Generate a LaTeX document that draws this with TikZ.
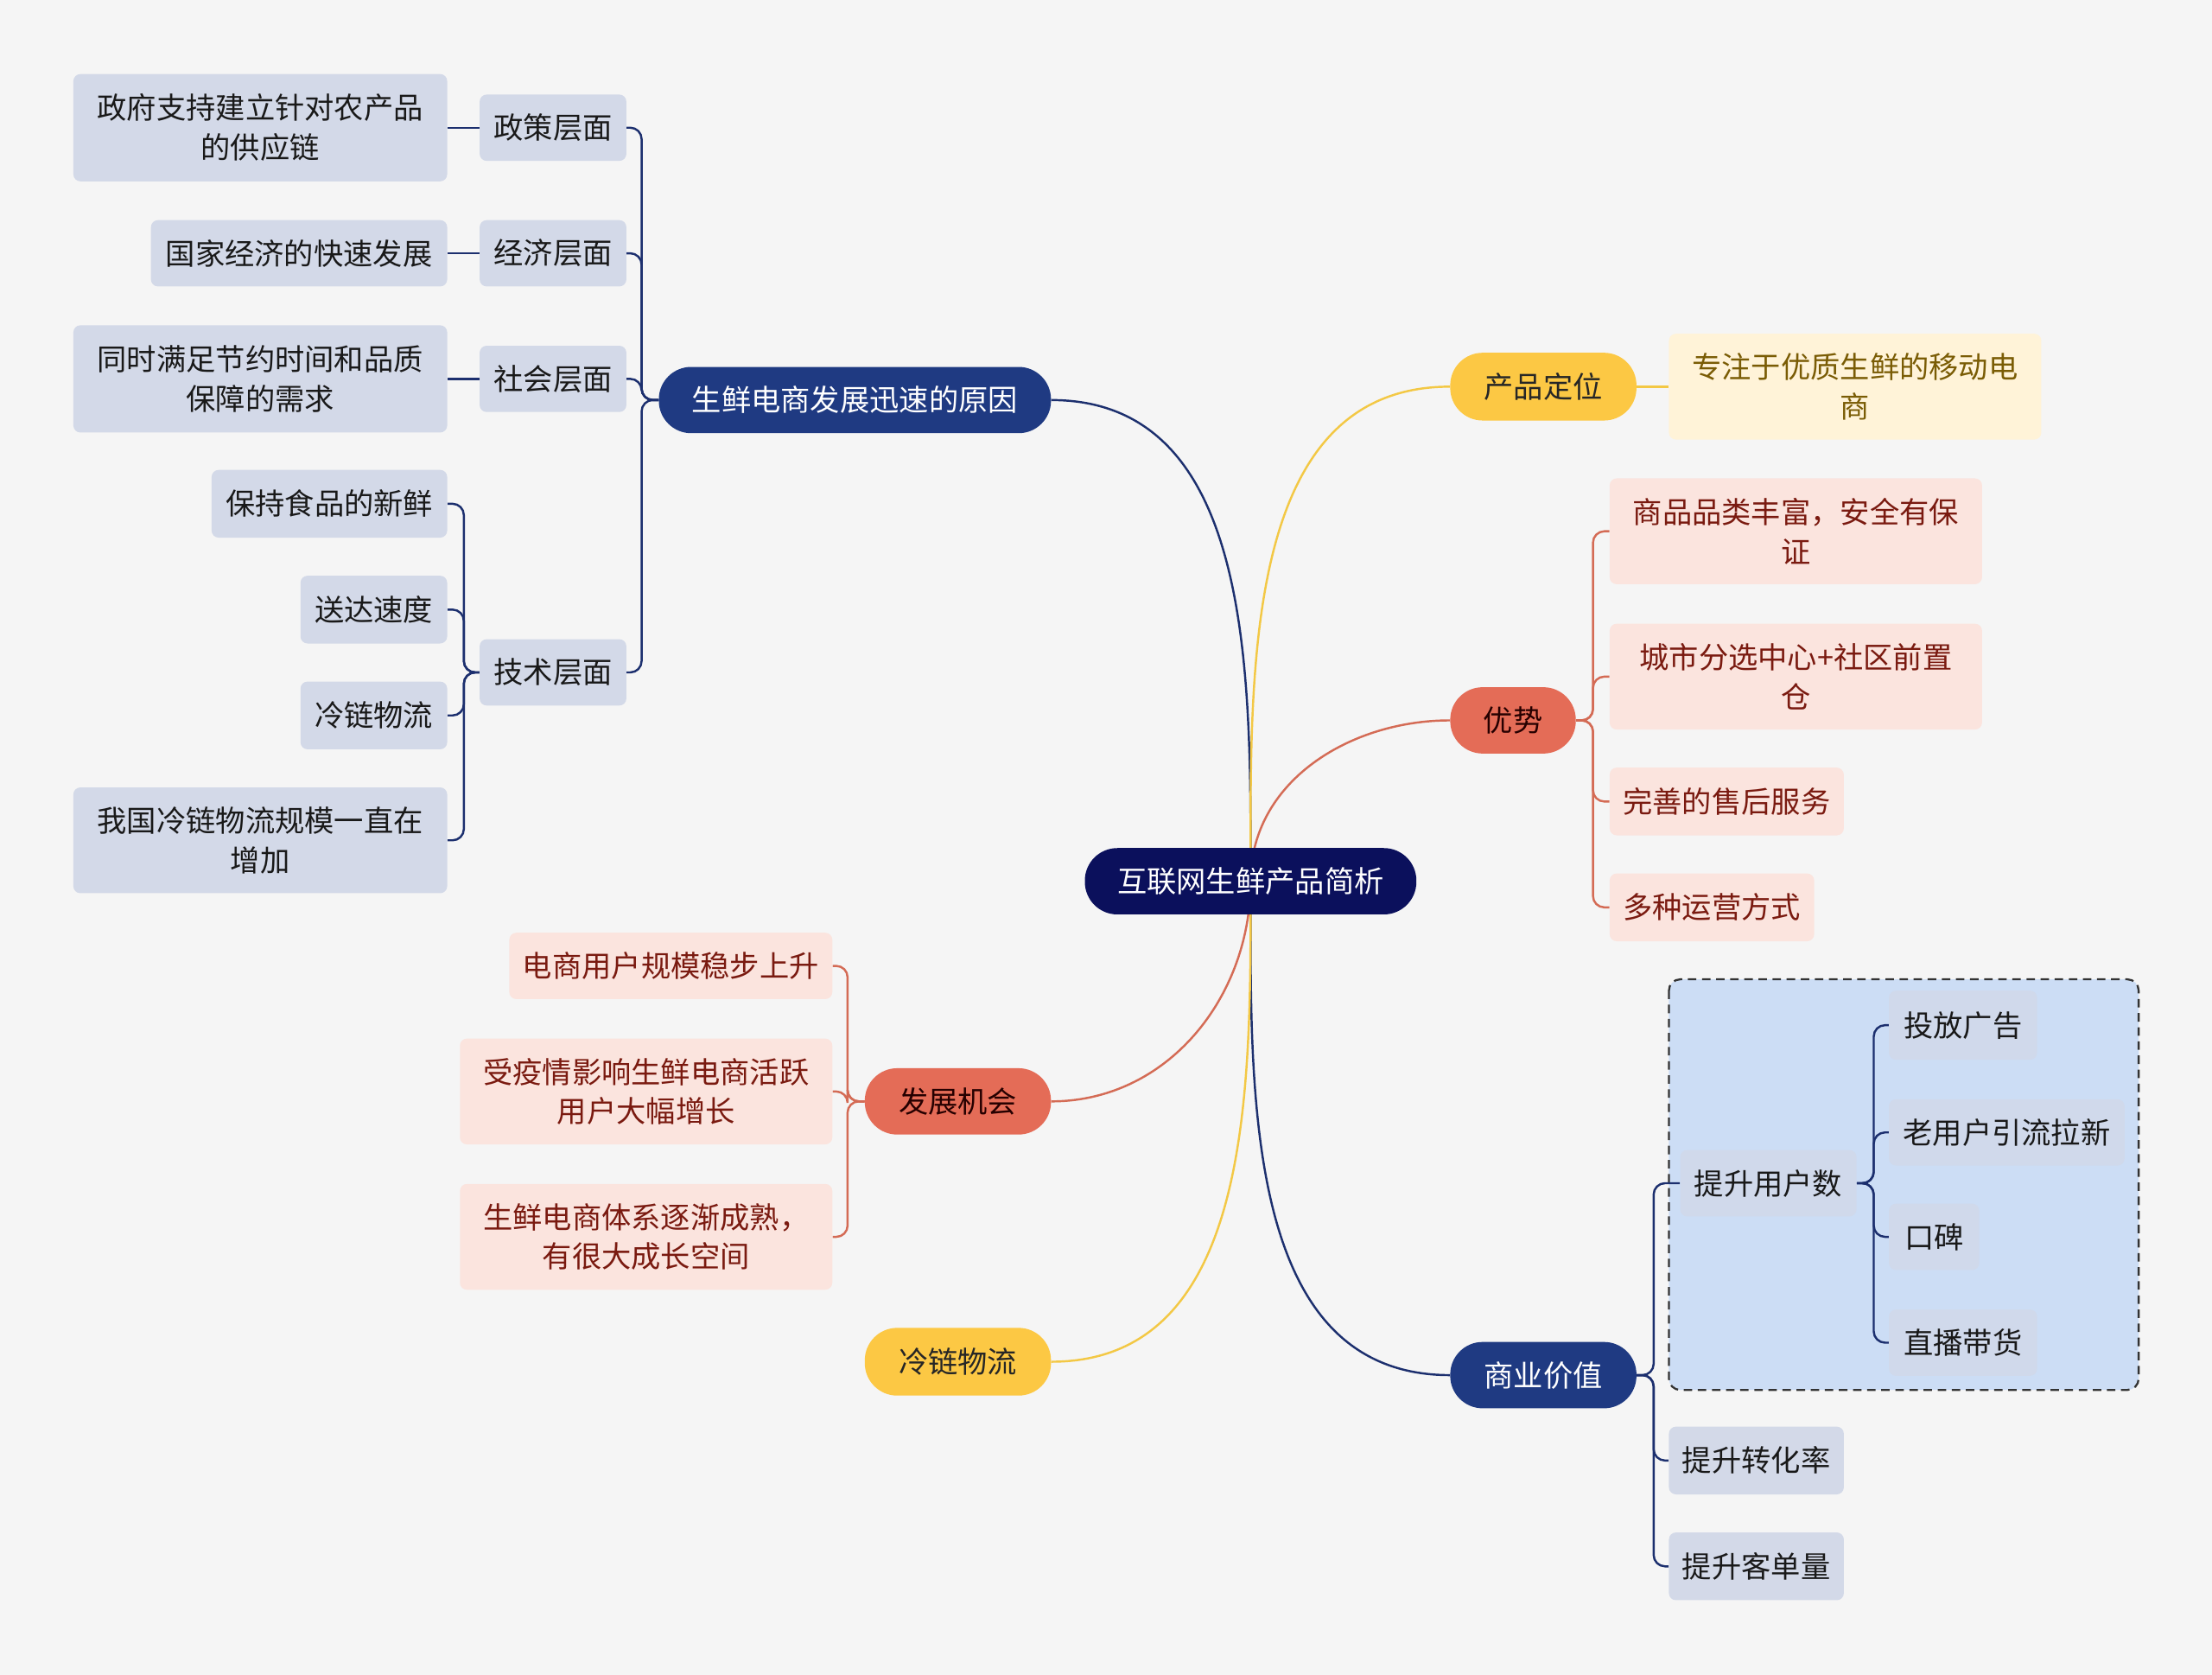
\documentclass[tikz,border=0pt]{standalone}
\usepackage{fontspec}
\newfontfamily\cjk{Noto Sans CJK SC}
\usetikzlibrary{backgrounds}
\definecolor{bgc}{HTML}{F5F5F5}
\definecolor{rootc}{HTML}{0B105C}
\definecolor{navy}{HTML}{1F3A82}
\definecolor{navyline}{HTML}{1C2F6E}
\definecolor{subfill}{HTML}{D3D9E8}
\definecolor{gold}{HTML}{FCC844}
\definecolor{goldline}{HTML}{F3C845}
\definecolor{cream}{HTML}{FFF3D8}
\definecolor{creamtext}{HTML}{7A5C05}
\definecolor{coral}{HTML}{E46C57}
\definecolor{coralline}{HTML}{D46B55}
\definecolor{pinkfill}{HTML}{FBE4DE}
\definecolor{pinktext}{HTML}{7A1A10}
\definecolor{boxblue}{HTML}{CCDDF5}
\definecolor{innerfill}{HTML}{D0D9EB}
\tikzset{
  base/.style={rectangle, inner sep=0pt, align=center, font=\cjk\fontsize{21}{28}\selectfont},
  wh/.style 2 args={minimum width=#1, minimum height=#2},
  rootnode/.style={base, rounded corners=23pt, fill=rootc, text=white},
  navymain/.style={base, rounded corners=23pt, fill=navy, text=white},
  goldmain/.style={base, rounded corners=23pt, fill=gold, text=black!85},
  coralmain/.style={base, rounded corners=23pt, fill=coral, text=black!85!red},
  sub/.style={base, rounded corners=5pt, fill=subfill, text=black!90},
  inner/.style={base, rounded corners=5pt, fill=innerfill, text=black!90},
  creamnode/.style={base, rounded corners=5pt, fill=cream, text=creamtext},
  pinknode/.style={base, rounded corners=5pt, fill=pinkfill, text=pinktext},
  nline/.style={draw=navyline, line width=1.5pt},
  cline/.style={draw=coralline, line width=1.5pt},
  gline/.style={draw=goldline, line width=1.5pt},
  tree/.style={rounded corners=8pt},
}
\begin{document}
\begin{tikzpicture}[x=1pt, y=-1pt]
\useasboundingbox (0,0) rectangle (1568,1187);
% root
\node[rootnode, wh={235}{47}] (root) at (886.5,624.5) {互联网生鲜产品简析};
% left top branch
\node[navymain, wh={278}{47}] (why) at (606,283.5) {生鲜电商发展迅速的原因};
\node[sub, wh={104}{47}] (zc) at (392,90.5) {政策层面};
\node[sub, wh={265}{76}] (zc1) at (184.5,90.5) {政府支持建立针对农产品\\的供应链};
\node[sub, wh={104}{47}] (jj) at (392,179.5) {经济层面};
\node[sub, wh={210}{47}] (jj1) at (212,179.5) {国家经济的快速发展};
\node[sub, wh={104}{47}] (sh) at (392,268.5) {社会层面};
\node[sub, wh={265}{76}] (sh1) at (184.5,268.5) {同时满足节约时间和品质\\保障的需求};
\node[sub, wh={104}{47}] (js) at (392,476.5) {技术层面};
\node[sub, wh={167}{48}] (js1) at (233.5,357) {保持食品的新鲜};
\node[sub, wh={104}{48}] (js2) at (265,432) {送达速度};
\node[sub, wh={104}{48}] (js3) at (265,507) {冷链物流};
\node[sub, wh={265}{75}] (js4) at (184.5,595.5) {我国冷链物流规模一直在\\增加};
% left bottom
\node[coralmain, wh={132}{47}] (jh) at (679,780.5) {发展机会};
\node[pinknode, wh={229}{47}] (jh1) at (475.5,684.5) {电商用户规模稳步上升};
\node[pinknode, wh={264}{75}] (jh2) at (458,773.5) {受疫情影响生鲜电商活跃\\用户大幅增长};
\node[pinknode, wh={264}{75}] (jh3) at (458,876.5) {生鲜电商体系逐渐成熟，\\有很大成长空间};
\node[goldmain, wh={132}{48}] (ll) at (679,965) {冷链物流};
% right
\node[goldmain, wh={132}{48}] (dw) at (1094,274) {产品定位};
\node[creamnode, wh={264}{75}] (dw1) at (1315,274) {专注于优质生鲜的移动电\\商};
\node[coralmain, wh={89}{47}] (ys) at (1072.5,510.5) {优势};
\node[pinknode, wh={264}{75}] (ys1) at (1273,376.5) {商品品类丰富，安全有保\\证};
\node[pinknode, wh={264}{75}] (ys2) at (1273,479.5) {城市分选中心+社区前置\\仓};
\node[pinknode, wh={166}{48}] (ys3) at (1224,568) {完善的售后服务};
\node[pinknode, wh={145}{48}] (ys4) at (1213.5,643) {多种运营方式};
\node[navymain, wh={132}{47}] (sy) at (1094,974.5) {商业价值};
\node[inner, wh={125}{47}] (yh) at (1253.5,838.5) {提升用户数};
\node[inner, wh={105}{49}] (yh1) at (1391.5,726.5) {投放广告};
\node[inner, wh={167}{47}] (yh2) at (1422.5,802.5) {老用户引流拉新};
\node[inner, wh={64}{47}] (yh3) at (1371,876.5) {口碑};
\node[inner, wh={105}{47}] (yh4) at (1391.5,951.5) {直播带货};
\node[sub, wh={124}{48}] (zh) at (1245,1035) {提升转化率};
\node[sub, wh={124}{48}] (kd) at (1245,1110) {提升客单量};
\begin{pgfonlayer}{background}
  \fill[bgc] (0,0) rectangle (1568,1187);
  \draw[fill=boxblue, draw=black!80, line width=1.4pt, dash pattern=on 6pt off 4pt, rounded corners=8pt] (1183,694) rectangle (1516,985);
  % root connectors
  \draw[nline] (root.center) to[out=90, in=0] (why.east);
  \draw[gline] (root.center) to[out=90, in=180] (dw.west);
  \draw[cline] (root.center) to[out=90, in=180] (ys.west);
  \draw[nline] (root.center) to[out=-90, in=180] (sy.west);
  \draw[cline] (root.center) to[out=-90, in=0] (jh.east);
  \draw[gline] (root.center) to[out=-90, in=0] (ll.east);
  % why subtree
  \foreach \c in {zc,jj,sh,js}{\draw[nline, tree] (why.west) -- ++(-12,0) |- (\c.east);}
  \draw[nline] (zc.west) -- (zc1.east);
  \draw[nline] (jj.west) -- (jj1.east);
  \draw[nline] (sh.west) -- (sh1.east);
  \foreach \c in {js1,js2,js3,js4}{\draw[nline, tree] (js.west) -- ++(-11,0) |- (\c.east);}
  % jh subtree
  \foreach \c in {jh1,jh2,jh3}{\draw[cline, tree] (jh.west) -- ++(-12,0) |- (\c.east);}
  % right
  \draw[gline] (dw.east) -- (dw1.west);
  \foreach \c in {ys1,ys2,ys3,ys4}{\draw[cline, tree] (ys.east) -- ++(12,0) |- (\c.west);}
  \foreach \c in {yh,zh,kd}{\draw[nline, tree] (sy.east) -- ++(12,0) |- (\c.west);}
  \foreach \c in {yh1,yh2,yh3,yh4}{\draw[nline, tree] (yh.east) -- ++(12,0) |- (\c.west);}
\end{pgfonlayer}
\end{tikzpicture}
\end{document}
